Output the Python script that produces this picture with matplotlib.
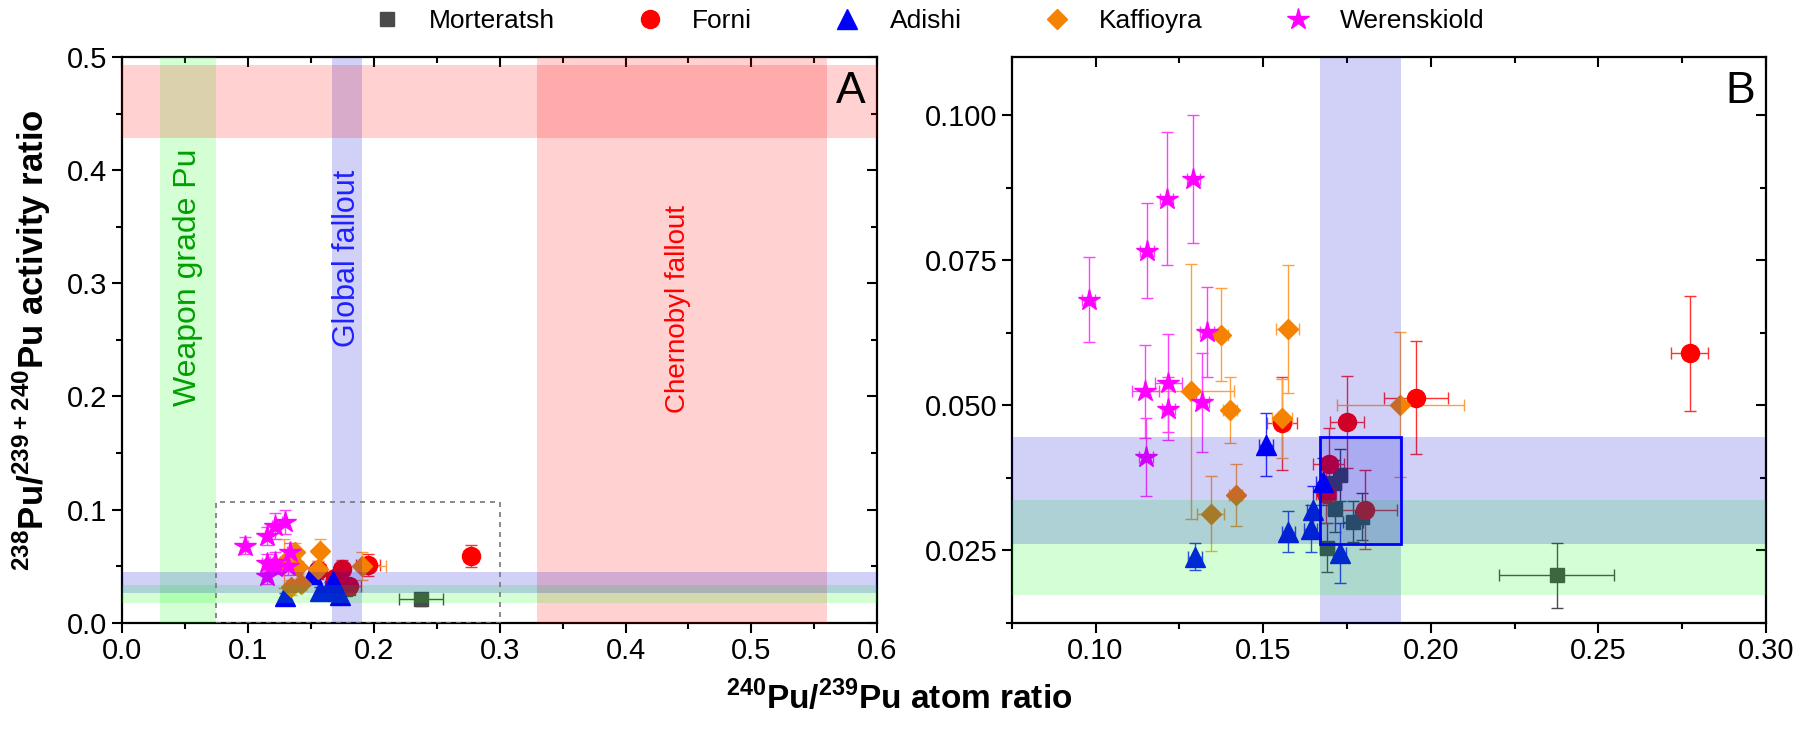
import numpy as np
import matplotlib.pyplot as plt
from matplotlib.lines import Line2D
from matplotlib.patches import Rectangle
from matplotlib.ticker import MultipleLocator

plt.rcParams['font.family'] = ['Liberation Sans', 'DejaVu Sans']
plt.rcParams['mathtext.fontset'] = 'custom'
plt.rcParams['mathtext.rm'] = 'Liberation Sans:bold'
plt.rcParams['mathtext.bf'] = 'Liberation Sans:bold'

# 240Pu/239Pu atom ratio (x) and 238Pu/239+240Pu activity ratio (y)
mort_x = [0.2376, 0.1730, 0.1712, 0.1713, 0.1769, 0.1794, 0.1690]
mort_y = [0.0207, 0.0379, 0.0366, 0.0321, 0.0299, 0.0308, 0.0254]
mort_xerr = [0.0172, 0.002, 0.002, 0.002, 0.003, 0.002, 0.002]
mort_yerr = [0.0056, 0.0045, 0.004, 0.004, 0.0035, 0.004, 0.0042]

forni_x = [0.2772, 0.1955, 0.1750, 0.1556, 0.1695, 0.1687, 0.1804]
forni_y = [0.0589, 0.0513, 0.0471, 0.0469, 0.0399, 0.0347, 0.0320]
forni_xerr = [0.0054, 0.0095, 0.005, 0.0045, 0.0045, 0.003, 0.0095]
forni_yerr = [0.0099, 0.0097, 0.008, 0.008, 0.0062, 0.005, 0.0068]

adishi_x = [0.1508, 0.1678, 0.1650, 0.1642, 0.1575, 0.1297, 0.1728]
adishi_y = [0.0432, 0.0368, 0.0320, 0.0287, 0.0282, 0.0239, 0.0245]
adishi_xerr = [0.002, 0.002, 0.002, 0.002, 0.002, 0.002, 0.002]
adishi_yerr = [0.0055, 0.004, 0.004, 0.004, 0.0035, 0.0023, 0.0051]

kaff_x = [0.1374, 0.1573, 0.1284, 0.1401, 0.1556, 0.1909, 0.1418, 0.1344]
kaff_y = [0.0621, 0.0631, 0.0524, 0.0491, 0.0477, 0.0501, 0.0345, 0.0313]
kaff_xerr = [0.002, 0.0035, 0.013, 0.002, 0.003, 0.019, 0.002, 0.004]
kaff_yerr = [0.008, 0.011, 0.022, 0.0057, 0.0068, 0.0125, 0.0053, 0.0064]

weren_x = [0.0979, 0.1154, 0.1212, 0.1292, 0.1332, 0.1148, 0.1217, 0.1217, 0.1319, 0.1150]
weren_y = [0.0682, 0.0766, 0.0856, 0.0890, 0.0626, 0.0524, 0.0538, 0.0494, 0.0505, 0.0411]
weren_xerr = [0.002, 0.002, 0.002, 0.002, 0.002, 0.004, 0.004, 0.002, 0.002, 0.002]
weren_yerr = [0.0074, 0.0082, 0.0115, 0.011, 0.0078, 0.008, 0.0085, 0.0055, 0.0085, 0.0067]

series = [
    ('Morteratsh', mort_x, mort_y, mort_xerr, mort_yerr, 's', '#4a4a4a', '#4a4a4a', 10),
    ('Forni', forni_x, forni_y, forni_xerr, forni_yerr, 'o', '#ff0000', '#ff3030', 13),
    ('Adishi', adishi_x, adishi_y, adishi_xerr, adishi_yerr, '^', '#0000ff', '#3030ff', 14),
    ('Kaffioyra', kaff_x, kaff_y, kaff_xerr, kaff_yerr, 'D', '#f58200', '#ffa040', 10.5),
    ('Werenskiold', weren_x, weren_y, weren_xerr, weren_yerr, '*', '#ff00ff', '#ff40ff', 16),
]

# reference bands
weapon_x = (0.03, 0.075)
global_x = (0.167, 0.191)
chern_x = (0.33, 0.56)
chern_y = (0.428, 0.493)
global_y = (0.026, 0.0445)
weapon_y = (0.0173, 0.0337)

green = (0.0, 1.0, 0.0, 0.17)
blue = (0.0, 0.0, 0.85, 0.18)
red = (1.0, 0.0, 0.0, 0.18)

fig = plt.figure(figsize=(17.98, 7.39), dpi=100)
axA = fig.add_axes([0.0679, 0.1574, 0.4200, 0.7655])
axB = fig.add_axes([0.5627, 0.1574, 0.4195, 0.7655])


def draw_points(ax):
    for name, x, y, xe, ye, m, c, ec, ms in series:
        ax.errorbar(x, y, xerr=xe, yerr=ye, fmt=m, color=c, ecolor=ec,
                    ms=ms, elinewidth=1.0, capsize=4, capthick=1.0, zorder=2)


def style(ax):
    for sp in ax.spines.values():
        sp.set_linewidth(1.6)
    ax.tick_params(which='both', top=True, right=True, labelsize=21, width=1.5)
    ax.tick_params(which='both', direction='out')
    ax.tick_params(which='major', length=7)
    ax.tick_params(which='minor', length=4)
    # top/right ticks point inward
    for t in ax.xaxis.get_major_ticks() + ax.xaxis.get_minor_ticks():
        t.tick2line.set_marker(3)
    for t in ax.yaxis.get_major_ticks() + ax.yaxis.get_minor_ticks():
        t.tick2line.set_marker(0)


# panel A
draw_points(axA)
axA.axvspan(*weapon_x, color=green, lw=0, zorder=3)
axA.axvspan(*global_x, color=blue, lw=0, zorder=3)
axA.axvspan(*chern_x, color=red, lw=0, zorder=3)
axA.axhspan(*chern_y, color=red, lw=0, zorder=3)
axA.axhspan(*weapon_y, color=green, lw=0, zorder=3)
axA.axhspan(*global_y, color=blue, lw=0, zorder=3)
axA.add_patch(Rectangle((0.075, 0.0), 0.225, 0.107, fill=False, ec='#777777',
                        ls=(0, (3, 3)), lw=1.2, zorder=4))
axA.text(0.052, 0.305, 'Weapon grade Pu', rotation=90, color='#00a000', fontsize=23,
         ha='center', va='center', zorder=5)
axA.text(0.179, 0.322, 'Global fallout', rotation=90, color='#2020ff', fontsize=22,
         ha='center', va='center', zorder=5)
axA.text(0.442, 0.277, 'Chernobyl fallout', rotation=90, color='#ff0000', fontsize=20,
         ha='center', va='center', zorder=5)
axA.text(0.985, 0.975, 'A', transform=axA.transAxes, fontsize=32, ha='right', va='top')
axA.set_xlim(0, 0.6)
axA.set_ylim(0, 0.5)
axA.xaxis.set_major_locator(MultipleLocator(0.1))
axA.xaxis.set_minor_locator(MultipleLocator(0.05))
axA.yaxis.set_major_locator(MultipleLocator(0.1))
axA.yaxis.set_minor_locator(MultipleLocator(0.05))
axA.set_ylabel(r'$^{238}$Pu/$^{239+240}$Pu activity ratio', fontsize=25,
               fontweight='bold', labelpad=10)
style(axA)

# panel B
draw_points(axB)
axB.axvspan(*global_x, color=blue, lw=0, zorder=3)
axB.axhspan(*weapon_y, color=green, lw=0, zorder=3)
axB.axhspan(*global_y, color=blue, lw=0, zorder=3)
axB.add_patch(Rectangle((global_x[0], global_y[0]), global_x[1] - global_x[0],
                        global_y[1] - global_y[0], fill=False, ec='#0000ff', lw=2, zorder=4))
axB.text(0.985, 0.975, 'B', transform=axB.transAxes, fontsize=32, ha='right', va='top')
axB.set_xlim(0.075, 0.30)
axB.set_ylim(0.0125, 0.110)
axB.xaxis.set_major_locator(MultipleLocator(0.05))
axB.xaxis.set_minor_locator(MultipleLocator(0.025))
axB.yaxis.set_major_locator(MultipleLocator(0.025))
axB.yaxis.set_minor_locator(MultipleLocator(0.0125))
axB.xaxis.set_major_formatter(plt.FormatStrFormatter('%.2f'))
axB.yaxis.set_major_formatter(plt.FormatStrFormatter('%.3f'))
style(axB)

fig.text(0.5, 0.055, r'$^{240}$Pu/$^{239}$Pu atom ratio', fontsize=24,
         fontweight='bold', ha='center', va='center')

handles = [Line2D([], [], ls='none', marker=s[5], color=s[6], ms=s[8]) for s in series]
fig.legend(handles, [s[0] for s in series], loc='center', bbox_to_anchor=(0.513, 0.971),
           ncol=5, frameon=False, fontsize=19, handletextpad=0.6, columnspacing=2.6)

fig.savefig('out.png', dpi=100)
